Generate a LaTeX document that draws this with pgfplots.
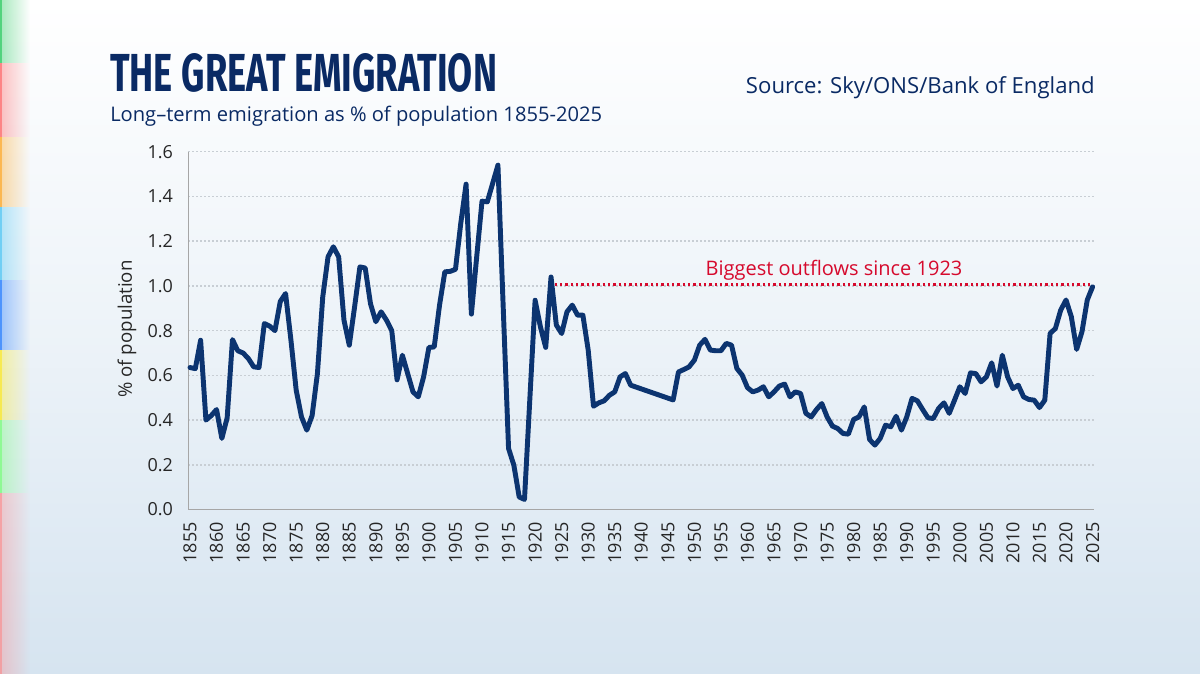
\documentclass[border=0pt]{standalone}
\usepackage{pgfplots}
\pgfplotsset{compat=1.18}
\usepackage{fontspec}
\setmainfont{Open Sans}
\newfontfamily\titlefont{Fira Sans}
\usetikzlibrary{fadings}
\definecolor{navy}{RGB}{12,52,112}
\definecolor{txtnavy}{RGB}{10,42,100}
\definecolor{skyred}{RGB}{214,10,45}
\definecolor{bgbot}{RGB}{214,228,240}
\definecolor{gridc}{RGB}{200,206,212}
\tikzfading[name=fadeR, left color=transparent!0, right color=transparent!100]
\pgfplotstableread{
year val
1855 0.635
1856 0.63
1857 0.757
1858 0.40
1859 0.42
1860 0.447
1861 0.318
1862 0.41
1863 0.76
1864 0.71
1865 0.70
1866 0.675
1867 0.638
1868 0.635
1869 0.832
1870 0.82
1871 0.80
1872 0.93
1873 0.966
1874 0.76
1875 0.534
1876 0.414
1877 0.355
1878 0.42
1879 0.608
1880 0.95
1881 1.13
1882 1.175
1883 1.13
1884 0.847
1885 0.735
1886 0.906
1887 1.085
1888 1.08
1889 0.92
1890 0.84
1891 0.884
1892 0.847
1893 0.80
1894 0.58
1895 0.69
1896 0.608
1897 0.526
1898 0.504
1899 0.593
1900 0.725
1901 0.727
1902 0.914
1903 1.063
1904 1.065
1905 1.074
1906 1.28
1907 1.455
1908 0.874
1909 1.13
1910 1.379
1911 1.376
1912 1.458
1913 1.54
1914 0.90
1915 0.273
1916 0.198
1917 0.056
1918 0.045
1919 0.49
1920 0.936
1921 0.817
1922 0.725
1923 1.04
1924 0.825
1925 0.787
1926 0.884
1927 0.914
1928 0.869
1929 0.869
1930 0.713
1931 0.462
1932 0.477
1933 0.486
1934 0.511
1935 0.526
1936 0.593
1937 0.608
1938 0.556
1946 0.49
1947 0.615
1948 0.626
1949 0.638
1950 0.668
1951 0.735
1952 0.761
1953 0.713
1954 0.71
1955 0.71
1956 0.743
1957 0.735
1958 0.631
1959 0.601
1960 0.545
1961 0.526
1962 0.534
1963 0.549
1964 0.504
1965 0.526
1966 0.552
1967 0.561
1968 0.504
1969 0.526
1970 0.519
1971 0.43
1972 0.414
1973 0.447
1974 0.474
1975 0.414
1976 0.373
1977 0.362
1978 0.34
1979 0.337
1980 0.403
1981 0.414
1982 0.459
1983 0.313
1984 0.288
1985 0.318
1986 0.377
1987 0.37
1988 0.417
1989 0.355
1990 0.414
1991 0.497
1992 0.486
1993 0.447
1994 0.41
1995 0.407
1996 0.452
1997 0.477
1998 0.43
1999 0.489
2000 0.549
2001 0.519
2002 0.611
2003 0.608
2004 0.571
2005 0.593
2006 0.656
2007 0.552
2008 0.69
2009 0.593
2010 0.541
2011 0.556
2012 0.504
2013 0.492
2014 0.489
2015 0.456
2016 0.489
2017 0.787
2018 0.81
2019 0.892
2020 0.937
2021 0.862
2022 0.716
2023 0.795
2024 0.937
2025 0.996
}\emigdata
\begin{document}
\begin{tikzpicture}[x=0.75pt,y=0.75pt]
\useasboundingbox (0,0) rectangle (1200,674);
\shade[top color=white, bottom color=bgbot, middle color=white!55!bgbot] (0,0) rectangle (1200,674);
% left colour stripe
\foreach \ya/\yb/\c in {611/674/green!50!teal, 537/611/red!70, 467/537/orange!80!yellow, 394/467/cyan!80, 324/394/blue!60!cyan, 254/324/yellow!90!orange, 181/254/green!60, 0/181/red!50}{
  \fill[\c, opacity=0.35, path fading=fadeR] (0,\ya) rectangle (30,\yb);
  \fill[\c, opacity=0.5] (0,\ya) rectangle (2,\yb);
}
% titles
\node[anchor=base west, inner sep=0pt, text=txtnavy] at (110,582.3)
  {\resizebox{290pt}{28.5pt}{\titlefont\bfseries THE GREAT EMIGRATION}};
\node[anchor=base west, inner sep=0pt, text=txtnavy, font=\fontsize{15.1}{18}\selectfont] at (110,552.3)
  {Long–term emigration as \% of population 1855-2025};
\node[anchor=base east, inner sep=0pt, text=txtnavy, font=\fontsize{16.6}{19}\selectfont] at (1095,580.7)
  {Source: Sky/ONS/Bank of England};
\node[rotate=90, inner sep=0pt, font=\fontsize{14}{16}\selectfont, text=black!85] at (127,345) {\% of population};
\begin{axis}[
  at={(141.225pt,123.375pt)}, anchor=south west,
  scale only axis, width=679pt, height=268.3pt,
  xmin=1854.68, xmax=2025.2, ymin=0, ymax=1.6,
  axis lines*=left,
  axis line style={color=black!35, line width=0.8pt},
  major tick length=0pt,
  xtick={1855,1860,...,2025},
  ytick={0,0.2,...,1.6},
  ymajorgrids,
  grid style={color=gridc, line width=1.1pt, dash pattern=on 1.1pt off 1.9pt},
  /pgf/number format/assume math mode=true,
  x tick label style={rotate=90, anchor=east, font=\fontsize{13.5}{14}\selectfont, text=black!85, /pgf/number format/set thousands separator={}},
  y tick label style={font=\fontsize{13.5}{14}\selectfont, text=black!85, /pgf/number format/.cd, fixed, fixed zerofill, precision=1},
  xticklabel shift=6pt, yticklabel shift=8pt,
  clip=false,
]
\addplot[skyred, line width=2pt, dash pattern=on 1.6pt off 2.4pt] coordinates {(1923.7,1.007) (2025,1.007)};
\addplot[navy, line width=3.7pt, line join=round, line cap=round] table[x=year,y=val] {\emigdata};
\node[text=skyred, font=\fontsize{15}{18}\selectfont, anchor=base] at (axis cs:1976.3,1.045) {Biggest outflows since 1923};
\end{axis}
\end{tikzpicture}
\end{document}
